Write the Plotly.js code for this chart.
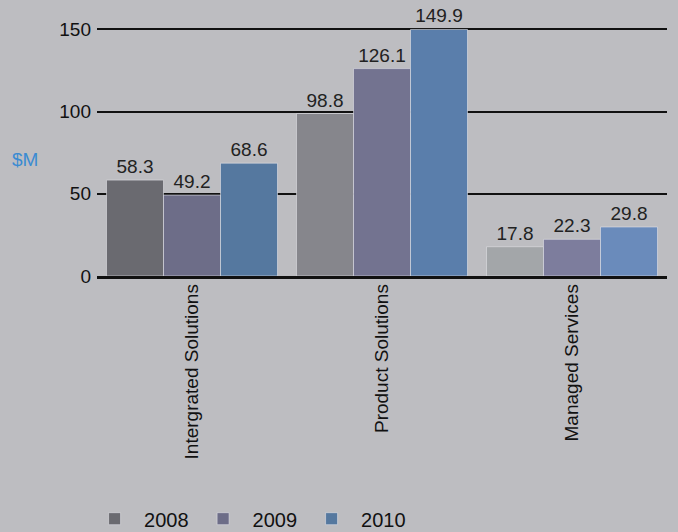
<!DOCTYPE html>
<html><head><meta charset="utf-8">
<script src="https://cdn.plot.ly/plotly-3.0.1.min.js"></script>
<style>html,body{margin:0;padding:0;background:#bdbdc1;}#chart{width:678px;height:532px;}</style>
</head><body><div id="chart"></div>
<script>
var categories = ["Intergrated Solutions", "Product Solutions", "Managed Services"];
var years = ["2008", "2009", "2010"];
var values2008 = [58.3, 98.8, 17.8];
var values2009 = [49.2, 126.1, 22.3];
var values2010 = [68.6, 149.9, 29.8];
var yTicks = [0, 50, 100, 150];

var colors2008 = ["#6a6a70", "#86868c", "#a3a6a9"];
var colors2009 = ["#6d6d88", "#737390", "#7d7d9d"];
var colors2010 = ["#55789f", "#5a7eab", "#6a8bbb"];

var series = [values2008, values2009, values2010];
var barColors = [colors2008, colors2009, colors2010];
var FONT = "Liberation Sans";
var traces = series.map(function (vals, i) {
  return {
    type: "bar", name: years[i], x: categories, y: vals,
    text: vals.map(function (v) { return v.toFixed(1); }),
    textposition: "outside", cliponaxis: false, constraintext: "none",
    textfont: {family: FONT, size: 19, color: "#222"},
    marker: {color: barColors[i], line: {color: "rgba(225,225,230,0.6)", width: 1}},
    hoverinfo: "none"
  };
});

var layout = {
  width: 678, height: 532,
  paper_bgcolor: "#bdbdc1", plot_bgcolor: "rgba(0,0,0,0)",
  margin: {l: 97, r: 11, t: 26, b: 256, autoexpand: false},
  barmode: "group", bargap: 0.1, bargroupgap: 0,
  font: {family: FONT, size: 19, color: "#111"},
  xaxis: {
    tickangle: -90, showgrid: false, ticks: "", showline: true, linecolor: "#111", linewidth: 2.5,
    tickfont: {family: FONT, size: 19, color: "#111"}, automargin: false, ticklabelstandoff: -2
  },
  yaxis: {
    range: [0, 152], tickvals: yTicks, ticktext: yTicks.map(String),
    showgrid: true, gridcolor: "#111", gridwidth: 2, zeroline: false,
    tickfont: {family: FONT, size: 19, color: "#111"}, ticks: "", automargin: false, ticklabelstandoff: 5
  },
  annotations: [{
    text: "$M", xref: "paper", yref: "paper", x: -0.127, y: 0.465, xanchor: "center", yanchor: "middle",
    showarrow: false, font: {family: FONT, size: 19, color: "#3a8bd2"}
  }],
  legend: {
    orientation: "h", xref: "container", yref: "container",
    x: 0.1255, xanchor: "left", y: 0.025, yanchor: "middle",
    font: {family: FONT, size: 20, color: "#111"}, bgcolor: "rgba(0,0,0,0)", itemwidth: 49, traceorder: "normal"
  }
};
Plotly.newPlot("chart", traces, layout, {displayModeBar: false, staticPlot: true});
</script></body></html>
